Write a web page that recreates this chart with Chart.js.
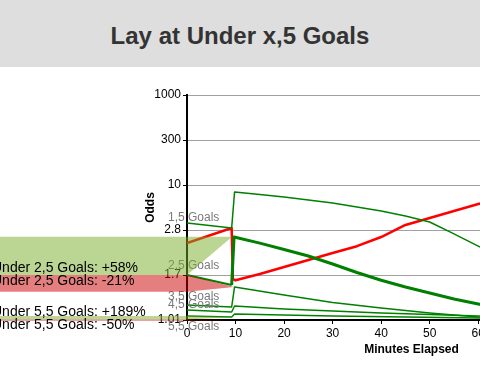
<!DOCTYPE html>
<html><head><meta charset="utf-8">
<script src="https://cdn.jsdelivr.net/npm/chart.js@4"></script>
<style>
html,body{margin:0;padding:0;width:480px;height:380px;overflow:hidden;background:#fff;}
#hdr{position:absolute;left:0;top:0;width:480px;height:67px;background:#dedede;font:bold 24px 'Liberation Sans',Arial,sans-serif;color:#333;text-align:center;line-height:71px;overflow:hidden;}
#c{position:absolute;left:0;top:0;}
</style></head><body>
<canvas id="c" width="640" height="380"></canvas>
<div id="hdr">Lay at Under x,5 Goals</div>
<script>
// ---- axis ticks (odds) ----
const TICK_ODDS = [1.01, 1.7, 2.8, 10, 300, 1000];
const TICK_LABELS = ['1.01', '1.7', '2.8', '10', '300', '1000'];

// ---- series: minutes elapsed and odds ----
const u15Min  = [0, 9.2, 9.8, 15, 20, 25, 30, 35, 40, 45, 50, 55, 60, 62];
const u15Odds = [3.41, 2.96, 8.2, 7.64, 7.12, 6.54, 6.01, 5.37, 4.79, 4.16, 3.51, 2.68, 2.34, 2.22];

const u25Min  = [0, 9.2, 9.7, 15, 20, 25, 30, 35, 40, 45, 50, 55, 60, 62];
const u25Odds = [1.7, 1.514, 2.59, 2.42, 2.256, 2.099, 1.921, 1.748, 1.60, 1.48, 1.38, 1.288, 1.215, 1.188];

const redMin  = [0, 9.2, 9.45, 10, 15, 20, 25, 30, 35, 40, 45, 50, 55, 60, 62];
const redOdds = [2.42, 2.96, 1.62, 1.60, 1.719, 1.858, 2.008, 2.17, 2.34, 2.59, 3.23, 3.93, 4.79, 5.84, 6.18];

const u35Min  = [0, 9.2, 9.8, 20, 30, 40, 50, 60, 62];
const u35Odds = [1.201, 1.174, 1.48, 1.349, 1.237, 1.16, 1.095, 1.045, 1.039];

const u45Min  = [0, 9.2, 9.8, 20, 40, 60, 62];
const u45Odds = [1.134, 1.108, 1.188, 1.147, 1.095, 1.058, 1.052];

const u55Min  = [0, 9.2, 9.8, 30, 60, 62];
const u55Odds = [1.058, 1.045, 1.083, 1.058, 1.034, 1.034];

const layMinute = 9.2;

const seriesNames = ['1,5 Goals', '2,5 Goals', '3,5 Goals', '4,5 Goals', '5,5 Goals'];
const seriesStart = [u15Odds[0], u25Odds[0], u35Odds[0], u45Odds[0], u55Odds[0]];

// ---- lay bands ----
const bandLabels   = ['Under 2,5 Goals: +58%', 'Under 2,5 Goals: -21%', 'Under 5,5 Goals: +189%', 'Under 5,5 Goals: -50%'];
const bandKinds    = ['gain', 'loss', 'gain', 'loss'];
const bandHigh     = [2.6, 1.7, 1.058, 1.016];
const bandLow      = [1.7, 1.4, 1.016, 1.0];
const bandTipMin   = [9.3, 9.7, 9.3, 9.3];
const bandTipOdds  = [2.6, 1.48, 1.045, 1.01];
const bandStartMin = -45;

function oddsToPos(o) {
  let i = 0;
  while (i < TICK_ODDS.length - 2 && o > TICK_ODDS[i + 1]) i++;
  return i + Math.log(o / TICK_ODDS[i]) / Math.log(TICK_ODDS[i + 1] / TICK_ODDS[i]);
}
function pts(xs, ys) { return xs.map((x, i) => ({ x: x, y: oddsToPos(ys[i]) })); }

const FONT = "'Liberation Sans', Arial, sans-serif";
Chart.defaults.font.family = FONT;

const labelOffsets = [-2.3, -6, -5.5, -1.7, 14];
const bandColors = { gain: 'rgba(120,172,40,0.5)', loss: 'rgba(204,0,0,0.5)' };

const overlayPlugin = {
  id: 'overlay',
  afterDatasetsDraw(chart) {
    const { ctx, chartArea, scales: { x, y } } = chart;
    ctx.save();
    // gray series labels
    ctx.font = '12px ' + FONT;
    ctx.fillStyle = '#7a7a7a';
    ctx.textAlign = 'left';
    ctx.textBaseline = 'alphabetic';
    seriesNames.forEach((n, i) => {
      const py = y.getPixelForValue(oddsToPos(seriesStart[i]));
      ctx.fillText(n, chartArea.left - 19, py + labelOffsets[i]);
    });
    // bands
    bandLabels.forEach((lab, i) => {
      const xl = x.getPixelForValue(bandStartMin);
      const x0 = x.getPixelForValue(0);
      const xt = x.getPixelForValue(bandTipMin[i]);
      const yh = y.getPixelForValue(oddsToPos(bandHigh[i]));
      const yl = y.getPixelForValue(oddsToPos(bandLow[i]));
      const yt = y.getPixelForValue(oddsToPos(bandTipOdds[i]));
      ctx.beginPath();
      ctx.moveTo(xl, yh);
      ctx.lineTo(x0, yh);
      ctx.lineTo(xt, yt);
      ctx.lineTo(x0, yl);
      ctx.lineTo(xl, yl);
      ctx.closePath();
      ctx.fillStyle = bandColors[bandKinds[i]];
      ctx.fill();
    });
    // band labels
    ctx.font = '14px ' + FONT;
    ctx.fillStyle = '#000';
    bandLabels.forEach((lab, i) => {
      const yh = y.getPixelForValue(oddsToPos(bandHigh[i]));
      const yl = y.getPixelForValue(oddsToPos(bandLow[i]));
      const by = bandKinds[i] === 'gain' ? yl - 3 : yh + 10;
      ctx.fillText(lab, -8, by);
    });
    ctx.restore();
  }
};

const thin = { borderColor: '#008000', borderWidth: 1.5 };
new Chart(document.getElementById('c'), {
  type: 'line',
  data: {
    datasets: [
      Object.assign({ label: 'Under 1,5', data: pts(u15Min, u15Odds) }, thin),
      { label: 'Under 2,5', data: pts(u25Min, u25Odds), borderColor: '#008000', borderWidth: 3,
        segment: { borderWidth: (c) => (c.p1.parsed.x <= layMinute ? 2 : 3) } },
      { label: 'Lay', data: pts(redMin, redOdds), borderColor: '#ff0000', borderWidth: 2.5 },
      Object.assign({ label: 'Under 3,5', data: pts(u35Min, u35Odds) }, thin),
      Object.assign({ label: 'Under 4,5', data: pts(u45Min, u45Odds) }, thin),
      Object.assign({ label: 'Under 5,5', data: pts(u55Min, u55Odds) }, thin)
    ]
  },
  options: {
    responsive: false,
    animation: false,
    elements: { point: { radius: 0 }, line: { tension: 0, fill: false, borderJoinStyle: 'round' } },
    layout: { padding: { left: 137, top: 95, right: 4, bottom: 20 } },
    plugins: { legend: { display: false }, tooltip: { enabled: false }, title: { display: false } },
    scales: {
      x: {
        type: 'linear', min: 0, max: 92.5,
        ticks: { stepSize: 10, includeBounds: false, color: '#000', font: { size: 12 }, padding: 2, maxRotation: 0, autoSkip: false },
        grid: { drawOnChartArea: false, tickLength: 4, tickColor: '#000' },
        border: { color: '#000', width: 2 },
        title: { display: true, text: 'Minutes Elapsed', color: '#000', font: { size: 12, weight: 'bold' }, padding: { top: 0, bottom: 3 } },
        afterFit(s) { s.height = 40; }
      },
      y: {
        type: 'linear', min: 0, max: 5,
        ticks: { stepSize: 1, color: '#000', font: { size: 12 }, padding: 2, callback: (v) => TICK_LABELS[v] },
        grid: { color: '#a0a0a0', lineWidth: 1, tickLength: 4, tickColor: '#000' },
        border: { color: '#000', width: 2 },
        title: { display: true, text: 'Odds', color: '#000', font: { size: 12, weight: 'bold' }, padding: { top: 6, bottom: 0 } },
        afterFit(s) { s.width = 50; }
      }
    }
  },
  plugins: [overlayPlugin]
});
</script>
</body></html>
